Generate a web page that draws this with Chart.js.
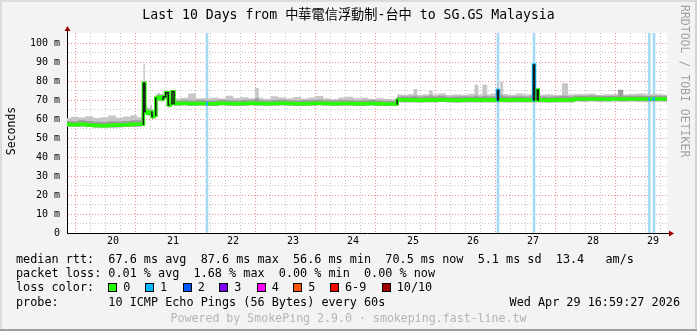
<!DOCTYPE html>
<html>
<head>
<meta charset="utf-8">
<script src="https://cdn.jsdelivr.net/npm/chart.js@4.4.1/dist/chart.umd.min.js"></script>
<style>
  html, body { margin: 0; padding: 0; background: #f3f3f3; }
  #frame { position: relative; width: 697px; height: 331px; background: #f3f3f3; overflow: hidden;
    font-family: "DejaVu Sans Mono", "Noto Sans CJK TC", monospace; color: #000; }
  #frame canvas { position: absolute; left: 0; top: 0; }
  .edge { position: absolute; }
  .txt { position: absolute; white-space: pre; line-height: 14px; font-size: 11.8px; }
  .box { position: absolute; width: 9px; height: 9px; box-sizing: border-box; border: 1px solid #000; top: 283px; }
</style>
</head>
<body>
<div id="frame">
  <canvas id="chart" width="697" height="331"></canvas>

  <div class="edge" style="left:0;top:0;width:697px;height:2px;background:#dcdcdc"></div>
  <div class="edge" style="left:0;top:0;width:2px;height:331px;background:#dcdcdc"></div>
  <div class="edge" style="right:0;top:0;width:2px;height:331px;background:#d4d4d4"></div>
  <div class="edge" style="left:0;bottom:0;width:697px;height:2px;background:#a0a0a0"></div>

  <div class="txt" style="left:0;top:6px;width:697px;text-align:center;font-size:13.2px;line-height:18px">Last 10 Days from 中華電信浮動制-台中 to SG.GS Malaysia</div>
  <div class="txt" style="left:-29px;top:124px;width:80px;text-align:center;font-size:11.5px;transform:rotate(-90deg)">Seconds</div>
  <div class="txt" style="left:679px;top:5px;font-size:11.5px;line-height:12px;writing-mode:vertical-rl;color:#a0a0a0">RRDTOOL / TOBI OETIKER</div>

  <div class="txt" style="left:16px;top:252px">median rtt:  67.6 ms avg  87.6 ms max  56.6 ms min  70.5 ms now  5.1 ms sd  13.4   am/s</div>
  <div class="txt" style="left:16px;top:266px">packet loss: 0.01 % avg  1.68 % max  0.00 % min  0.00 % now</div>
  <div class="txt" style="left:16px;top:280px">loss color:</div>
  <div id="lossLegend"></div>
  <div class="txt" style="left:16px;top:294.5px">probe:       10 ICMP Echo Pings (56 Bytes) every 60s</div>
  <div class="txt" style="right:17px;top:294.5px">Wed Apr 29 16:59:27 2026</div>
  <div class="txt" style="left:0;top:311px;width:697px;text-align:center;font-size:11.6px;color:#b4b4b4">Powered by SmokePing 2.9.0 · smokeping.fast-line.tw</div>
</div>

<script>
// hours since Apr 19 00:00
const hours = [
  17.6, 20.6, 23.6, 26.6, 29.6, 32.6, 35.6, 38.6, 41.6, 44.6, 46.6, 48.0, 48.3,
  49.2, 50.4, 51.2, 52.0, 52.8, 53.4, 54.4, 55.6, 56.6, 57.6, 58.6, 59.2, 60.0, 60.8, 61.6,
  64.6, 67.6, 70.6, 73.2, 73.6, 74.0, 76.6, 79.6, 82.6, 85.6, 88.6, 91.6, 94.0, 94.6, 97.6, 100.6,
  103.6, 106.6, 109.6, 112.6, 115.6, 118.6, 121.6, 124.6, 127.6, 130.6, 133.6, 136.6,
  139.6, 142.6, 145.6, 149.5,
  149.8, 152.6, 155.6, 156.8, 158.6, 161.6, 163.2, 164.6, 167.6, 170.6, 173.6, 176.6,
  179.6, 181.6, 182.6, 184.8, 186.6, 188.6, 189.6, 190.0, 190.4, 191.5, 192.6, 195.6,
  198.6, 201.6, 204.0, 204.4, 204.8, 205.5, 205.9, 206.3, 207.6, 210.6, 213.6, 217.5,
  218.6, 222.0, 224.6, 227.6, 230.6, 233.6, 236.6, 239.5, 240.6, 243.6, 246.6, 250.1,
  250.5, 250.9, 252.0, 252.4, 252.8, 254.6, 257.6
];
// median rtt in ms
const medianRtt = [
  57.2, 57.0, 57.3, 56.9, 56.6, 56.5, 56.7, 56.8, 57.0, 57.2, 57.3, 57.3, 78.8,
  64.0, 63.0, 63.6, 61.3, 62.0, 70.9, 71.5, 70.6, 71.8, 73.8, 67.4, 68.0, 74.4, 68.2, 68.2,
  68.3, 68.1, 68.2, 68.2, 68.2, 68.1, 68.0, 68.3, 68.2, 68.1, 68.2, 68.3, 68.2, 68.2, 68.1, 68.2,
  68.3, 68.2, 68.0, 68.1, 68.2, 68.3, 68.2, 68.1, 68.2, 68.2, 68.0, 68.1,
  68.2, 68.0, 67.9, 67.9,
  70.0, 70.1, 70.0, 70.0, 69.9, 70.0, 70.1, 70.0, 70.2, 70.0, 69.9, 70.0,
  70.1, 70.0, 70.0, 70.0, 70.1, 70.0, 70.0, 75.0, 70.0, 70.2, 70.0, 70.0,
  70.1, 70.0, 70.0, 88.4, 70.0, 70.1, 75.3, 70.0, 70.0, 69.9, 70.0, 70.0,
  70.0, 70.6, 70.5, 70.6, 70.5, 70.4, 70.6, 70.5, 70.5, 70.6, 70.5, 70.5,
  70.5, 70.5, 70.6, 70.5, 70.5, 70.6, 70.5
];
const smokeLow = [
  56.0, 55.9, 56.1, 55.8, 55.6, 55.5, 55.6, 55.7, 55.9, 56.0, 56.1, 56.2, 60.0,
  62.8, 61.8, 62.2, 60.2, 60.8, 61.5, 70.2, 69.4, 70.5, 71.0, 66.2, 66.8, 67.5, 67.0, 67.1,
  67.2, 67.0, 67.1, 67.1, 67.1, 67.0, 66.9, 67.2, 67.1, 67.0, 67.1, 67.2, 67.1, 67.1, 67.0, 67.1,
  67.2, 67.1, 66.9, 67.0, 67.1, 67.2, 67.1, 67.0, 67.1, 67.1, 66.9, 67.0,
  67.1, 66.9, 66.8, 66.8,
  68.8, 68.9, 68.8, 68.8, 68.7, 68.8, 68.9, 68.8, 69.0, 68.8, 68.7, 68.8,
  68.9, 68.8, 68.8, 68.8, 68.9, 68.8, 68.8, 68.8, 68.8, 69.0, 68.8, 68.8,
  68.9, 68.8, 68.8, 68.8, 68.8, 68.9, 69.0, 68.8, 68.8, 68.7, 68.8, 68.8,
  68.8, 69.4, 69.3, 69.4, 69.3, 69.2, 69.4, 69.3, 69.3, 69.4, 69.3, 69.3,
  69.3, 69.3, 69.4, 69.3, 69.3, 69.4, 69.3
];
const smokeMid = [
  59.0, 58.8, 59.3, 59.0, 58.6, 58.4, 58.9, 58.7, 59.0, 59.3, 59.4, 60.5, 80.0,
  65.5, 64.5, 65.0, 63.0, 63.6, 72.0, 72.8, 72.0, 73.0, 74.6, 70.0, 70.5, 75.0, 69.8, 69.6,
  69.9, 69.8, 70.0, 69.9, 69.8, 69.8, 69.7, 70.1, 69.9, 69.8, 70.0, 70.1, 71.0, 69.9, 69.8, 70.0,
  70.1, 69.9, 69.7, 69.9, 70.0, 70.2, 69.9, 69.8, 70.0, 69.9, 69.8, 69.9,
  70.0, 69.7, 69.6, 69.5,
  71.8, 72.0, 71.9, 72.3, 71.8, 72.0, 72.5, 71.9, 72.2, 71.8, 71.9, 72.0,
  71.9, 72.4, 71.8, 72.2, 71.9, 72.0, 72.0, 76.0, 72.2, 72.6, 72.0, 71.9,
  72.0, 71.9, 72.0, 88.4, 72.0, 72.4, 75.8, 72.2, 71.9, 71.8, 72.0, 72.2,
  71.9, 72.3, 72.2, 72.4, 72.2, 72.1, 72.3, 75.3, 72.2, 72.3, 72.2, 72.1,
  72.2, 72.2, 72.3, 72.1, 72.2, 72.3, 72.2
];
const smokeHigh = [
  60.5, 61.2, 60.8, 61.5, 60.6, 61.0, 61.8, 60.7, 61.3, 62.0, 61.0, 64.0, 89.0,
  67.0, 66.0, 67.5, 65.0, 66.5, 73.0, 73.8, 73.2, 74.0, 75.0, 73.5, 72.0, 75.5, 71.5, 70.8,
  71.2, 73.5, 71.0, 71.1, 70.9, 71.0, 71.4, 70.8, 72.3, 71.1, 71.5, 71.0, 76.3, 71.2, 70.7, 72.0,
  71.3, 70.9, 71.6, 70.8, 71.4, 72.1, 71.0, 70.6, 71.3, 71.8, 70.9, 71.2,
  70.7, 71.0, 70.5, 70.4,
  73.0, 72.8, 73.2, 75.8, 72.6, 73.0, 75.0, 72.9, 73.4, 72.7, 73.1, 72.8,
  73.3, 78.0, 72.9, 78.0, 73.0, 73.4, 74.0, 79.6, 74.5, 79.6, 73.2, 72.8,
  73.5, 72.9, 73.2, 88.6, 73.0, 73.5, 76.5, 73.1, 72.8, 73.0, 72.7, 78.8,
  72.9, 73.2, 73.0, 73.3, 72.8, 73.1, 73.0, 75.6, 72.9, 73.2, 73.5, 73.0,
  73.1, 72.9, 73.2, 73.0, 73.3, 73.1, 72.8
];
// lost pings out of 10
const lossCount = [
  0, 0, 0, 0, 0, 0, 0, 0, 0, 0, 0, 0, 0,
  0, 0, 0, 0, 0, 0, 0, 0, 0, 0, 0, 0, 0, 0, 0,
  0, 0, 0, 0, 1, 0, 0, 0, 0, 0, 0, 0, 0, 0, 0, 0,
  0, 0, 0, 0, 0, 0, 0, 0, 0, 0, 0, 0,
  0, 0, 0, 0,
  0, 0, 0, 0, 0, 0, 0, 0, 0, 0, 0, 0,
  0, 0, 0, 0, 0, 0, 0, 1, 0, 0, 0, 0,
  0, 0, 0, 1, 0, 0, 0, 0, 0, 0, 0, 0,
  0, 0, 0, 0, 0, 0, 0, 0, 0, 0, 0, 0,
  1, 0, 0, 1, 0, 0, 0
];
const lossBandHours = [73.6, 190.0, 204.4, 250.5, 252.4];

const dayLabels = ['20', '21', '22', '23', '24', '25', '26', '27', '28', '29'];
const yTickLabels = ['0', '10 m', '20 m', '30 m', '40 m', '50 m', '60 m', '70 m', '80 m', '90 m', '100 m'];
const lossNames = ['0', '1', '2', '3', '4', '5', '6-9', '10/10'];
const lossColors = ['#26ff00', '#00b8ff', '#0059ff', '#7e00ff', '#ff00ff', '#ff5500', '#ff0000', '#a10000'];

const yTop = 105.3;
const xMin = 17.6, xMax = 257.6;

// loss color legend boxes
const boxLeft = [108.3, 145, 182.7, 219.3, 256.7, 293.3, 330, 381.7];
let legendHtml = '';
lossNames.forEach((n, i) => {
  legendHtml += '<div class="box" style="left:' + boxLeft[i] + 'px;background:' + lossColors[i] + '"></div>';
  legendHtml += '<div class="txt" style="left:' + (boxLeft[i] + 15) + 'px;top:280px">' + n + '</div>';
});
document.getElementById('lossLegend').innerHTML = legendHtml;

const pts = arr => hours.map((h, i) => ({ x: h, y: arr[i] }));

const majorGrid = 'rgba(225,70,70,0.6)';
const minorGrid = 'rgba(140,140,140,0.5)';
const tickFont = { family: 'DejaVu Sans Mono', size: 10 };

const plotBg = {
  id: 'plotBg',
  beforeDraw(chart) {
    const { ctx, chartArea: a } = chart;
    ctx.save();
    ctx.fillStyle = '#ffffff';
    ctx.fillRect(a.left, a.top, a.right - a.left, a.bottom - a.top);
    ctx.restore();
  }
};

const axisArrows = {
  id: 'axisArrows',
  afterDraw(chart) {
    const { ctx, chartArea: a } = chart;
    const x0 = Math.round(a.left) + 0.5, y0 = Math.round(a.bottom) + 0.5;
    ctx.save();
    ctx.strokeStyle = '#000';
    ctx.lineWidth = 1;
    ctx.beginPath();
    ctx.moveTo(x0, a.top);
    ctx.lineTo(x0, a.top - 3);
    ctx.moveTo(a.right, y0);
    ctx.lineTo(a.right + 3, y0);
    ctx.stroke();
    ctx.fillStyle = '#a00000';
    ctx.beginPath();
    ctx.moveTo(x0, a.top - 7);
    ctx.lineTo(x0 - 3, a.top - 2);
    ctx.lineTo(x0 + 3, a.top - 2);
    ctx.closePath();
    ctx.fill();
    ctx.beginPath();
    ctx.moveTo(a.right + 7, y0);
    ctx.lineTo(a.right + 2, y0 - 3);
    ctx.lineTo(a.right + 2, y0 + 3);
    ctx.closePath();
    ctx.fill();
    ctx.restore();
  }
};

new Chart(document.getElementById('chart'), {
  type: 'line',
  data: {
    datasets: [
      {
        label: 'smoke high',
        data: pts(smokeHigh),
        stepped: 'middle',
        borderWidth: 0,
        pointRadius: 0,
        backgroundColor: '#c6c6c6',
        fill: 2,
        order: 5
      },
      {
        label: 'smoke mid',
        data: pts(smokeMid),
        stepped: 'middle',
        borderWidth: 0,
        pointRadius: 0,
        backgroundColor: '#9c9c9c',
        fill: 2,
        order: 4
      },
      {
        label: 'smoke low',
        data: pts(smokeLow),
        stepped: 'middle',
        borderWidth: 0,
        pointRadius: 0,
        fill: false,
        order: 3
      },
      {
        label: 'median rtt',
        data: pts(medianRtt),
        stepped: 'middle',
        borderWidth: 3.5,
        borderColor: lossColors[0],
        pointRadius: 0,
        fill: false,
        order: 2,
        segment: {
          borderColor: c => lossColors[Math.max(lossCount[c.p0DataIndex], lossCount[c.p1DataIndex])]
        }
      },
      {
        label: 'median jumps',
        data: pts(medianRtt),
        stepped: 'middle',
        borderWidth: 1.5,
        borderColor: 'rgba(0,0,0,0)',
        pointRadius: 0,
        fill: false,
        order: 1,
        segment: {
          borderColor: c => Math.abs(c.p1.parsed.y - c.p0.parsed.y) > 1.2 ? '#1a1a1a' : 'rgba(0,0,0,0)'
        }
      },
      {
        type: 'bar',
        label: 'loss',
        data: lossBandHours.map(h => ({ x: h, y: yTop })),
        backgroundColor: '#a6daf2',
        barThickness: 2,
        order: 6
      }
    ]
  },
  options: {
    responsive: false,
    devicePixelRatio: 1,
    animation: false,
    layout: { padding: { left: 0, top: 33, right: 30, bottom: 78 } },
    plugins: { legend: { display: false }, tooltip: { enabled: false } },
    scales: {
      x: {
        type: 'linear',
        min: xMin,
        max: xMax,
        offset: false,
        afterBuildTicks: s => {
          const t = [];
          for (let h = 18; h < xMax; h += 6) t.push({ value: h });
          s.ticks = t;
        },
        afterFit: s => { s.height = 20; },
        ticks: {
          autoSkip: false,
          maxRotation: 0,
          padding: 2,
          color: '#000',
          font: tickFont,
          callback: v => v % 24 === 12 ? dayLabels[(v - 36) / 24] : ''
        },
        grid: {
          drawTicks: false,
          lineWidth: 1,
          color: c => (c.tick && c.tick.value % 24 === 0) ? majorGrid : minorGrid
        },
        border: { color: '#000', width: 1, dash: [1, 2] }
      },
      y: {
        min: 0,
        max: yTop,
        afterBuildTicks: s => {
          const t = [];
          for (let v = 0; v <= 100; v += 5) t.push({ value: v });
          s.ticks = t;
        },
        afterFit: s => { s.width = 67; },
        ticks: {
          autoSkip: false,
          padding: 7,
          color: '#000',
          font: tickFont,
          callback: v => v % 10 === 0 ? yTickLabels[v / 10] : ''
        },
        grid: {
          drawTicks: false,
          lineWidth: 1,
          color: c => (c.tick && c.tick.value % 10 === 0) ? majorGrid : minorGrid
        },
        border: { color: '#000', width: 1, dash: [1, 2] }
      }
    }
  },
  plugins: [plotBg, axisArrows]
});
</script>
</body>
</html>
